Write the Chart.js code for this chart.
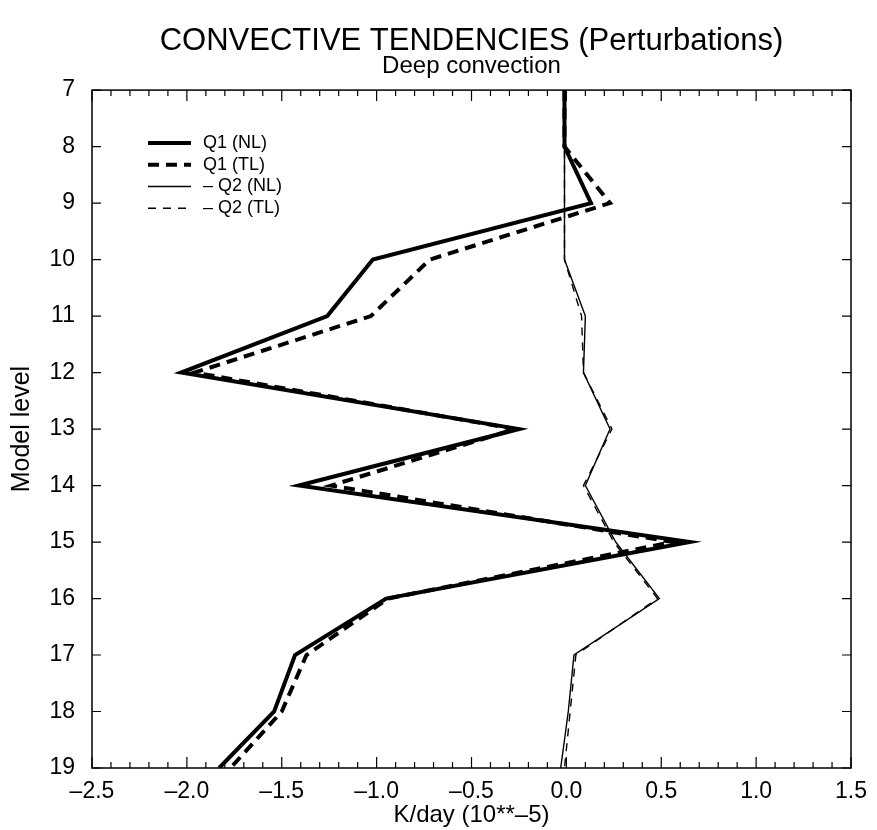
<!DOCTYPE html>
<html>
<head>
<meta charset="utf-8">
<script src="https://cdn.jsdelivr.net/npm/chart.js@4.4.1/dist/chart.umd.min.js"></script>
<style>
  body { margin: 0; background: #fff; }
  #wrap { width: 877px; height: 830px; }
</style>
</head>
<body>
<div id="wrap"><canvas id="tendencyChart"></canvas></div>
<script>
// Model levels (top of profile first) and tendencies in K/day (10**-5)
const levels = [7, 8, 9, 10, 11, 12, 13, 14, 15, 16, 17, 18, 19];
const q1NL = [-0.01, -0.01, 0.13, -1.02, -1.26, -2.03, -0.25, -1.41, 0.65, -0.95, -1.43, -1.54, -1.83];
const q1TL = [-0.01, -0.01, 0.23, -0.72, -1.03, -1.96, -0.27, -1.24, 0.56, -0.94, -1.37, -1.50, -1.77];
const q2NL = [-0.01, -0.01, -0.01, -0.01, 0.10, 0.09, 0.23, 0.10, 0.26, 0.49, 0.04, 0.01, -0.03];
const q2TL = [-0.01, -0.01, -0.01, -0.01, 0.08, 0.09, 0.24, 0.09, 0.25, 0.48, 0.05, 0.02, -0.01];
const seriesLabels = ['Q1 (NL)', 'Q1 (TL)', '\u2013 Q2 (NL)', '\u2013 Q2 (TL)'];

const FONT = "'Liberation Sans', Arial, Helvetica, sans-serif";

function profile(values) {
  return values.map((v, i) => ({ x: v, y: levels[i] }));
}

function dashLabel(v) {
  const s = Math.abs(v).toFixed(1);
  return v < -1e-9 ? '\u2013' + s : s;
}

// frame with inward tick marks on all four sides, plus the key
const framePlugin = {
  id: 'frame',
  afterDraw(chart) {
    const { ctx, chartArea: a, scales } = chart;
    const xs = scales.x, ys = scales.y;
    ctx.save();
    ctx.strokeStyle = '#000';
    ctx.lineWidth = 1.5;
    ctx.setLineDash([]);
    ctx.strokeRect(a.left, a.top, a.right - a.left, a.bottom - a.top);

    ctx.lineWidth = 1.2;
    ctx.beginPath();
    for (let i = -25; i <= 15; i++) {
      const px = xs.getPixelForValue(i / 10);
      const len = i % 5 === 0 ? 11 : 6;
      ctx.moveTo(px, a.bottom); ctx.lineTo(px, a.bottom - len);
      ctx.moveTo(px, a.top); ctx.lineTo(px, a.top + len);
    }
    levels.forEach(l => {
      const py = ys.getPixelForValue(l);
      ctx.moveTo(a.left, py); ctx.lineTo(a.left + 9, py);
      ctx.moveTo(a.right, py); ctx.lineTo(a.right - 9, py);
    });
    ctx.stroke();

    // key
    ctx.font = '18px ' + FONT;
    ctx.textBaseline = 'middle';
    ctx.fillStyle = '#000';
    chart.data.datasets.forEach((ds, i) => {
      const y = a.top + 53 + i * 21.7;
      const x0 = a.left + 56;
      ctx.beginPath();
      ctx.lineWidth = ds.borderWidth;
      ctx.setLineDash(ds.borderDash || []);
      ctx.moveTo(x0, y); ctx.lineTo(x0 + 43, y);
      ctx.stroke();
      ctx.setLineDash([]);
      ctx.fillText(ds.label, x0 + 55, y);
    });
    ctx.restore();
  }
};

new Chart(document.getElementById('tendencyChart'), {
  type: 'scatter',
  data: {
    datasets: [{
      label: seriesLabels[0],
      data: profile(q1NL),
      borderColor: '#000',
      borderWidth: 4,
      showLine: true,
      pointRadius: 0
    }, {
      label: seriesLabels[1],
      data: profile(q1TL),
      borderColor: '#000',
      borderWidth: 4,
      borderDash: [11, 7],
      showLine: true,
      pointRadius: 0
    }, {
      label: seriesLabels[2],
      data: profile(q2NL),
      borderColor: '#000',
      borderWidth: 1.4,
      showLine: true,
      pointRadius: 0
    }, {
      label: seriesLabels[3],
      data: profile(q2TL),
      borderColor: '#000',
      borderWidth: 1.4,
      borderDash: [8, 7],
      showLine: true,
      pointRadius: 0
    }]
  },
  options: {
    responsive: true,
    maintainAspectRatio: false,
    animation: false,
    layout: {
      padding: { top: 0, right: 20, bottom: 0, left: 0 }
    },
    plugins: {
      legend: { display: false },
      tooltip: { enabled: false },
      title: {
        display: true,
        fullSize: false,
        text: 'CONVECTIVE TENDENCIES (Perturbations)',
        color: '#000',
        font: { family: FONT, size: 31, weight: 'normal', lineHeight: 0.9 },
        padding: { top: 28, bottom: 0 }
      },
      subtitle: {
        display: true,
        fullSize: false,
        text: 'Deep convection',
        color: '#000',
        font: { family: FONT, size: 24, weight: 'normal', lineHeight: 0.8 },
        padding: { top: 1, bottom: 14 }
      }
    },
    scales: {
      x: {
        type: 'linear',
        min: -2.5,
        max: 1.5,
        afterFit: s => { s.height = 62; },
        grid: { display: false, drawTicks: false },
        border: { display: false },
        ticks: {
          stepSize: 0.5,
          padding: 10,
          color: '#000',
          font: { family: FONT, size: 23 },
          callback: v => dashLabel(v)
        },
        title: {
          display: true,
          text: 'K/day (10**\u20135)',
          color: '#000',
          font: { family: FONT, size: 24 },
          padding: { top: 0, bottom: 0 }
        }
      },
      y: {
        type: 'linear',
        min: 7,
        max: 19,
        reverse: true,
        afterFit: s => { s.width = 92; },
        grid: { display: false, drawTicks: false },
        border: { display: false },
        ticks: {
          stepSize: 1,
          padding: 17,
          color: '#000',
          font: { family: FONT, size: 23 }
        },
        title: {
          display: true,
          text: 'Model level',
          color: '#000',
          font: { family: FONT, size: 25 },
          padding: { top: 7, bottom: 0 }
        }
      }
    }
  },
  plugins: [framePlugin]
});
</script>
</body>
</html>
